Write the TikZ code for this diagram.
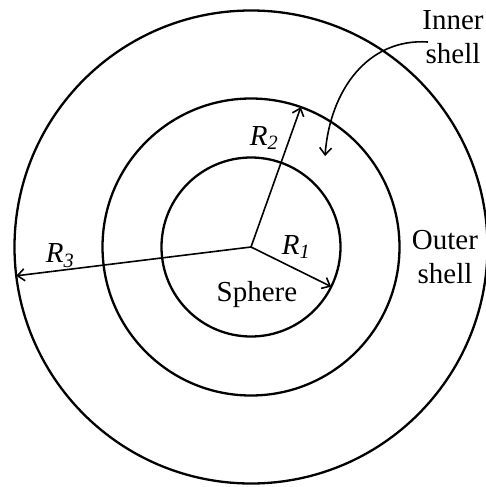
\documentclass[tikz,border=0pt]{standalone}
\usepackage{fontspec}
\setmainfont{Liberation Serif}
\usetikzlibrary{calc,arrows.meta}

\begin{document}
\begin{tikzpicture}[x=1pt, y=-1pt,
    font=\fontsize{29}{34}\selectfont,
    ring/.style={line width=2.3pt},
    radius line/.style={line width=1.6pt, -{Straight Barb[length=7pt,width=12pt]}},
    lbl/.style={inner sep=0pt, align=center}]
  \useasboundingbox (0,0) rectangle (486,487);
  \def\ra{89.5}   % sphere
  \def\rb{148.5}  % inner shell
  \def\rc{236.5}  % outer shell
  % --- the three circles ---
  \coordinate (O) at (251,247);
  \draw[ring] (O) circle[radius=\ra pt];
  \draw[ring] (O) circle[radius=\rb pt];
  \draw[ring] (O) circle[radius=\rc pt];
  % --- radius ends ---
  \coordinate (r1) at ($(O)+(-26.3:\ra pt)$);
  \coordinate (r2) at ($(O)+(70.4:\rb pt)$);
  \coordinate (r3) at ($(O)+(187:\rc pt)$);
  \draw[radius line] (O) -- (r1);
  \draw[radius line] (O) -- (r2);
  \draw[radius line] (O) -- (r3);
  % --- labels ---
  \node[lbl] (R1) at (296,247) {\textit{R\textsubscript{1}}};
  \node[lbl] (R2) at (264,138) {\textit{R\textsubscript{2}}};
  \node[lbl] (R3) at (60,256) {\textit{R\textsubscript{3}}};
  \node[lbl] (sphere) at (257,295) {Sphere};
  \node[lbl] (outer) at (445,257) {Outer\\shell};
  \node[lbl] (inner) at (453,37) {Inner\\shell};
  % --- pointer to the inner shell ---
  \coordinate (from) at (428,42);
  \coordinate (tip) at (325,156);
  \draw[radius line] (from) .. controls (368,38) and (330,90) .. (tip);
\end{tikzpicture}
\end{document}
